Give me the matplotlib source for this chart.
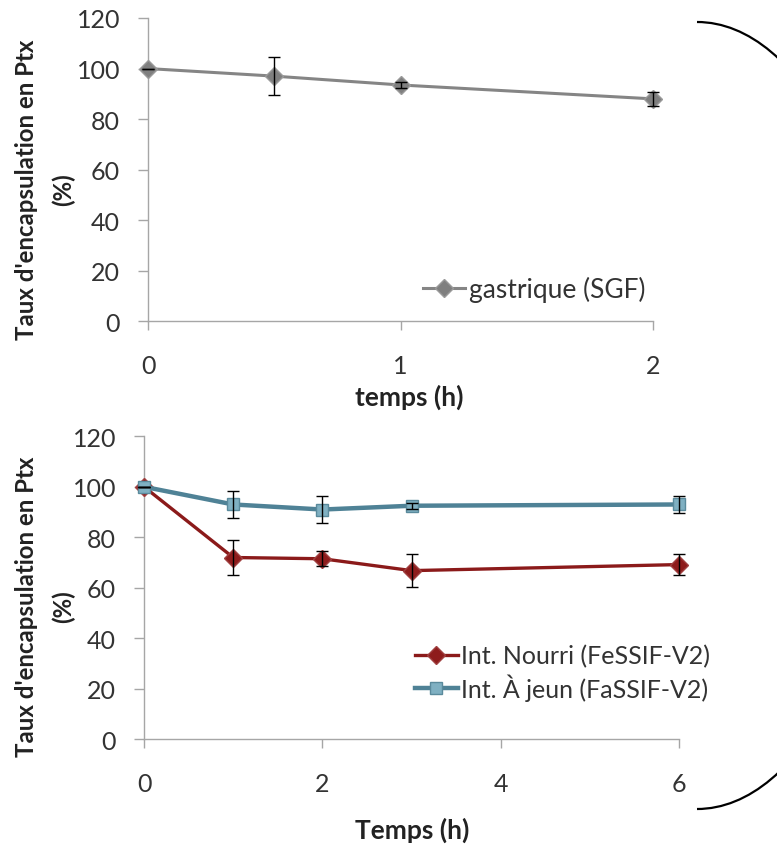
import matplotlib
matplotlib.use('Agg')
import matplotlib.pyplot as plt
from matplotlib.patches import Arc

plt.rcParams['font.family'] = ['Lato', 'DejaVu Sans']

# gastric medium (SGF)
t_gastric = [0, 0.5, 1, 2]
sgf = [100, 97, 93.5, 88]
sgf_err = [0, 7.4, 1.0, 2.8]

# intestinal media
t_intest = [0, 1, 2, 3, 6]
fessif = [100, 72, 71.5, 66.8, 69.2]
fessif_err = [0, 7.0, 3.0, 6.5, 4.3]
fassif = [100, 93, 91, 92.5, 93]
fassif_err = [0, 5.2, 5.5, 1.2, 3.3]

ylabel = "Taux d'encapsulation en Ptx\n(%)"
axis_grey = '#a6a6a6'
text_col = '#333333'

fig = plt.figure(figsize=(7.77, 8.45), dpi=100)
ax1 = fig.add_axes([148/777, 1 - 322.3/845, 505/777, 303.3/845])
ax2 = fig.add_axes([144/777, 1 - 740.3/845, 535.3/777, 303/845])


def style_axis(ax, xmax, xticks):
    ax.set_xlim(0, xmax)
    ax.set_ylim(0, 120)
    ax.set_xticks(xticks)
    ax.set_yticks(range(0, 121, 20))
    for s in ['top', 'right']:
        ax.spines[s].set_visible(False)
    for s in ['left', 'bottom']:
        ax.spines[s].set_color(axis_grey)
        ax.spines[s].set_linewidth(1)
    ax.tick_params(axis='y', length=7, width=1, color=axis_grey, pad=13,
                   labelsize=18, labelcolor=text_col)
    ax.tick_params(axis='x', length=6.5, width=1, color=axis_grey, pad=17,
                   labelsize=18, labelcolor=text_col)


def draw_series(ax, x, y, err, label, color, lw, marker, ms, mfc, mec):
    ax.errorbar(x, y, yerr=err, fmt='none', ecolor='black', elinewidth=1,
                capsize=4, capthick=1, zorder=4, clip_on=False)
    ax.plot(x, y, color=color, lw=lw, marker=marker, ms=ms, mfc=mfc,
            mec=mec, label=label, zorder=3, clip_on=False)


# top: gastric
style_axis(ax1, 2, [0, 1, 2])
draw_series(ax1, t_gastric, sgf, sgf_err, 'gastrique (SGF)', '#858585', 2.2,
            'D', 9, '#7f7f7f', '#9a9a9a')
ax1.legend(loc='center left', bbox_to_anchor=(423/777, 1 - 290/845),
           bbox_transform=fig.transFigure, frameon=False, fontsize=19,
           handlelength=1.6, handletextpad=0.15, borderpad=0, borderaxespad=0,
           labelcolor=text_col)
fig.text(409/777, 1 - 397/845, 'temps (h)', ha='center', va='center',
         fontsize=19, fontweight='bold', color='#222222')
fig.text(45/777, 1 - 190/845, ylabel, rotation=90, ha='center', va='center',
         fontsize=17.3, fontweight='bold', color='#222222', linespacing=1.7,
         multialignment='center')

# bottom: intestinal
style_axis(ax2, 6, [0, 2, 4, 6])
draw_series(ax2, t_intest, fessif, fessif_err, 'Int. Nourri (FeSSIF-V2)',
            '#8b1a1a', 2.4, 'D', 9, '#8e1c1c', '#a04040')
draw_series(ax2, t_intest, fassif, fassif_err, 'Int. À jeun (FaSSIF-V2)',
            '#4f8296', 3.2, 's', 9, '#7fb0c2', '#5a8a9c')
ax2.legend(loc='center left', bbox_to_anchor=(415/777, 1 - 673.5/845),
           bbox_transform=fig.transFigure, frameon=False, fontsize=18,
           handlelength=1.7, handletextpad=0.15, borderpad=0, borderaxespad=0,
           labelspacing=0.25, labelcolor=text_col)
fig.text(412/777, 1 - 830/845, 'Temps (h)', ha='center', va='center',
         fontsize=19, fontweight='bold', color='#222222')
fig.text(45/777, 1 - 607/845, ylabel, rotation=90, ha='center', va='center',
         fontsize=17.3, fontweight='bold', color='#222222', linespacing=1.7,
         multialignment='center')

# bracket on the right, mostly off the canvas
fig.patches.append(Arc((697/777, 1 - 416.5/845), 388/777, 787/845,
                       theta1=-90, theta2=90, transform=fig.transFigure,
                       color='black', lw=1.6))

fig.savefig('out.png', dpi=100)
